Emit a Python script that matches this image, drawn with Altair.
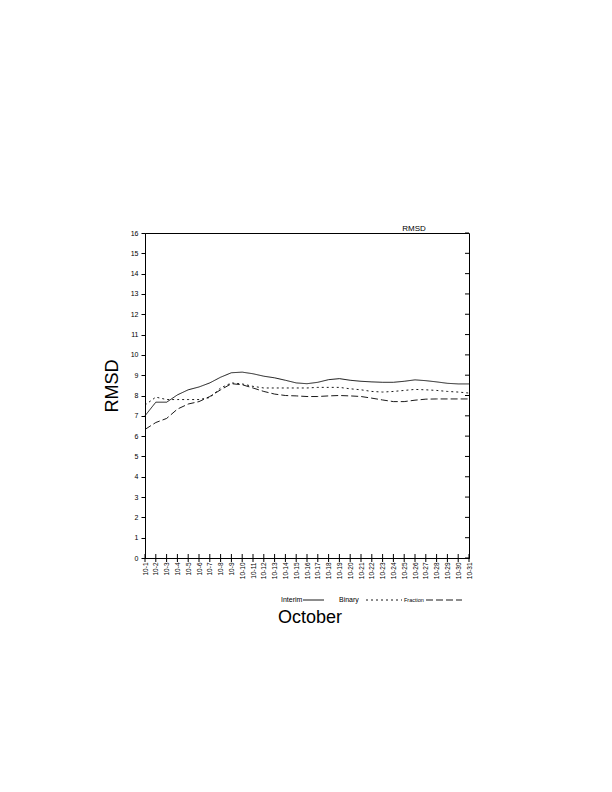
import altair as alt
import pandas as pd

days = list(range(1, 32))
series_names = ["Interim", "Binary", "Fraction"]
interim = [7.0, 7.67, 7.67, 8.03, 8.28, 8.42, 8.62, 8.9, 9.12, 9.15,
           9.07, 8.95, 8.87, 8.75, 8.62, 8.58, 8.65, 8.78, 8.83, 8.75,
           8.7, 8.67, 8.65, 8.65, 8.7, 8.77, 8.73, 8.67, 8.6, 8.57, 8.57]
binary = [7.53, 7.92, 7.8, 7.8, 7.8, 7.8, 7.9, 8.37, 8.62, 8.57,
          8.45, 8.37, 8.37, 8.37, 8.37, 8.37, 8.4, 8.4, 8.4, 8.33,
          8.28, 8.2, 8.17, 8.2, 8.25, 8.3, 8.28, 8.25, 8.2, 8.17, 8.12]
fraction = [6.33, 6.67, 6.87, 7.33, 7.58, 7.7, 7.95, 8.28, 8.58, 8.53,
            8.37, 8.2, 8.07, 8.0, 7.98, 7.95, 7.95, 7.98, 8.0, 7.98,
            7.95, 7.87, 7.78, 7.7, 7.7, 7.77, 7.82, 7.83, 7.83, 7.83, 7.83]
y_ticks = list(range(0, 17))

FONT = "Liberation Sans"
W, H = 324, 325

rows = []
for name, vals in zip(series_names, [interim, binary, fraction]):
    for d, v in zip(days, vals):
        rows.append({"day": d, "rmsd": v, "series": name})
df = pd.DataFrame(rows)

xscale = alt.Scale(domain=[1, 31], nice=False, zero=False)
yscale = alt.Scale(domain=[0, 16], nice=False, zero=True)
x_axis = alt.Axis(values=days, labelExpr="'10-' + datum.value",
                  labelAngle=270, labelFontSize=6.5, ticks=False,
                  labelPadding=4, title=None, grid=False)
y_axis = alt.Axis(values=y_ticks, tickSize=4, labelFontSize=7,
                  labelPadding=3, title=None, grid=False)

lines = alt.Chart(df).mark_line(color="black", strokeWidth=0.9).encode(
    x=alt.X("day:Q", scale=xscale, axis=x_axis),
    y=alt.Y("rmsd:Q", scale=yscale, axis=y_axis),
    strokeDash=alt.StrokeDash("series:N",
                              scale=alt.Scale(domain=series_names,
                                              range=[[1, 0], [2, 3], [7, 3]]),
                              legend=None),
    detail="series:N",
)

day_df = pd.DataFrame({"day": days})
xticks = alt.Chart(day_df).mark_rule(color="black", strokeWidth=1).encode(
    x=alt.X("day:Q", scale=xscale, axis=x_axis),
    y=alt.value(H - 4), y2=alt.value(H + 4),
)

ytick_df = pd.DataFrame({"rmsd": y_ticks})
rticks = alt.Chart(ytick_df).mark_rule(color="black", strokeWidth=1).encode(
    y=alt.Y("rmsd:Q", scale=yscale, axis=y_axis),
    x=alt.value(W - 4), x2=alt.value(W),
)

def label(text, x, y, size, angle=0, align="center", baseline="alphabetic"):
    return alt.Chart(pd.DataFrame({"t": [text]})).mark_text(
        font=FONT, fontSize=size, color="black", angle=angle,
        align=align, baseline=baseline,
    ).encode(text="t:N", x=alt.value(x), y=alt.value(y))

def leg_rule(x1, x2, y, dash):
    return alt.Chart(pd.DataFrame({"k": [0]})).mark_rule(
        color="black", strokeWidth=0.9, strokeDash=dash
    ).encode(x=alt.value(x1), x2=alt.value(x2), y=alt.value(y))

texts = [
    label("RMSD", 269, -2, 8),
    label("RMSD", -32, 153, 18, angle=270, baseline="middle"),
    label("October", 165, 390, 18),
    label("Interim", 136, 369, 7, align="left"),
    label("Binary", 194, 369, 7, align="left"),
    label("Fraction", 259, 369, 5.5, align="left"),
    leg_rule(158, 179, 367, [1, 0]),
    leg_rule(221, 257, 367, [2, 3]),
    leg_rule(281, 317, 367, [7, 3]),
]

chart = alt.layer(lines, xticks, rticks, *texts).properties(
    width=W, height=H,
    autosize=alt.AutoSizeParams(type="none"),
    padding={"left": 137, "top": 225, "right": 120, "bottom": 200},
).configure_view(
    stroke="black", strokeWidth=1
).configure_axis(
    domainColor="black", tickColor="black", labelColor="black",
    labelFont=FONT, domainWidth=1, tickWidth=1,
).configure_text(font=FONT)

chart.save("out.html", embed_options={"renderer": "svg", "actions": False})
